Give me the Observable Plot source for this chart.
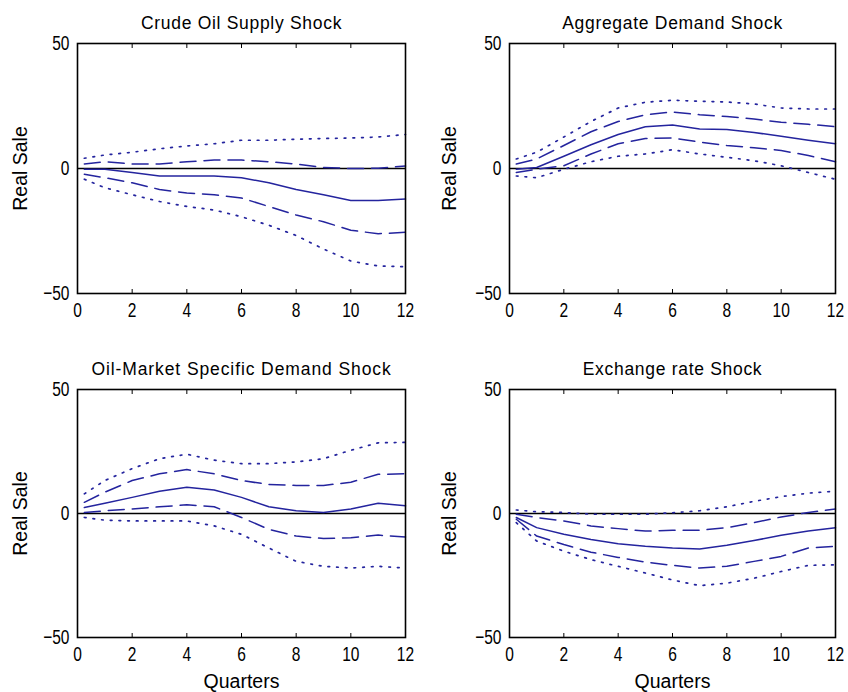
<!DOCTYPE html>
<html>
<head>
<meta charset="utf-8">
<script src="https://cdn.jsdelivr.net/npm/d3@7"></script>
<script src="https://cdn.jsdelivr.net/npm/@observablehq/plot@0.6"></script>
<style>
  html, body { margin: 0; padding: 0; background: #fff; }
  #wrap { position: relative; width: 848px; height: 692px; background: #fff; }
  .panel { position: absolute; }
</style>
</head>
<body>
<div id="wrap"></div>
<script>
// ---- Data ----
const quarters = [0.25, 1, 2, 3, 4, 5, 6, 7, 8, 9, 10, 11, 12];
const xTicks = [0, 2, 4, 6, 8, 10, 12];
const yTicks = [-50, 0, 50];
const titles = ["Crude Oil Supply Shock", "Aggregate Demand Shock", "Oil-Market Specific Demand Shock", "Exchange rate Shock"];

// Crude Oil Supply Shock
const supplyMedian = [-0.3, -0.3, -1.6, -3, -3, -3, -3.7, -5.7, -8.4, -10.5, -12.8, -12.8, -12.2];
const supplyUp1 = [1.8, 2.7, 1.8, 1.8, 2.7, 3.4, 3.4, 2.7, 1.8, 0.4, 0, 0.1, 1];
const supplyLo1 = [-2.3, -3.7, -5.7, -8.4, -9.8, -10.5, -11.8, -15.2, -18.6, -21.3, -24.7, -26.1, -25.5];
const supplyUp2 = [4.1, 5.4, 6.5, 7.9, 9, 9.9, 11.3, 11.3, 11.7, 12, 12.2, 12.6, 13.6];
const supplyLo2 = [-4.3, -7.7, -10.5, -13.2, -15.2, -16.6, -19.3, -22.7, -26.8, -32.2, -37, -39, -39.3];

// Aggregate Demand Shock
const demandMedian = [-0.3, 0.4, 4.9, 9.5, 13.6, 16.7, 17.4, 15.8, 15.6, 14.4, 12.9, 11.3, 9.9];
const demandUp1 = [1.8, 3.8, 9.2, 14.7, 18.8, 21.5, 22.6, 21.5, 20.8, 19.8, 18.5, 17.7, 16.7];
const demandLo1 = [-1.6, -0.3, 1.1, 5.8, 9.9, 12, 12.2, 10.6, 9.2, 8.3, 7.2, 5.2, 2.7];
const demandUp2 = [3.8, 6.5, 12.6, 18.8, 24.2, 26.5, 27.3, 26.9, 26.6, 25.8, 24.2, 23.8, 23.8];
const demandLo2 = [-3, -3.7, -0.3, 2.7, 4.9, 5.8, 7.5, 5.8, 4.5, 3.1, 1.1, -1.6, -4.3];

// Oil-Market Specific Demand Shock
const oilMedian = [2.4, 4.1, 6.5, 9, 10.6, 9.5, 6.5, 2.7, 1.1, 0.4, 1.8, 4.1, 3.1];
const oilUp1 = [4.5, 8.6, 13.3, 16, 17.7, 16, 13.3, 11.7, 11.3, 11.3, 12.6, 15.8, 16];
const oilLo1 = [0.4, 1.1, 1.8, 2.7, 3.5, 2.7, -1.6, -6.4, -9.1, -10.1, -9.8, -8.7, -9.5];
const oilUp2 = [7.9, 13.3, 18.1, 22.1, 23.9, 21.5, 20.1, 20.1, 20.8, 22.1, 25.5, 28.5, 28.7];
const oilLo2 = [-1.6, -2.7, -3, -3, -3, -5, -8.4, -13.9, -19.3, -21.3, -22, -21.3, -22];

// Exchange rate Shock
const fxMedian = [-1.6, -5.7, -8.4, -10.5, -12.2, -13.2, -13.9, -14.3, -12.8, -10.9, -8.8, -7.1, -5.7];
const fxUp1 = [-0.3, -1.6, -3, -5, -6.1, -7.1, -6.8, -6.8, -5.7, -3.7, -1.4, 0.4, 1.8];
const fxLo1 = [-2.3, -9.1, -12.5, -15.6, -17.7, -19.6, -20.9, -22, -21.3, -19.3, -17.3, -13.9, -13.2];
const fxUp2 = [1.4, 0.7, 0.4, -0.3, -0.3, -0.3, 0.3, 1.1, 2.7, 4.9, 6.8, 8.2, 9];
const fxLo2 = [-3.7, -11.1, -15.2, -18.6, -21.3, -24, -26.8, -29.1, -28.1, -26.1, -23.4, -20.9, -20.7];

const panels = [
  {title: titles[0], med: supplyMedian, up1: supplyUp1, lo1: supplyLo1, up2: supplyUp2, lo2: supplyLo2, left: 0, top: 0, ml: 77, mr: 19, mt: 43, mb: 53, xlabel: false},
  {title: titles[1], med: demandMedian, up1: demandUp1, lo1: demandLo1, up2: demandUp2, lo2: demandLo2, left: 424, top: 0, ml: 85, mr: 13, mt: 43, mb: 53, xlabel: false},
  {title: titles[2], med: oilMedian, up1: oilUp1, lo1: oilLo1, up2: oilUp2, lo2: oilLo2, left: 0, top: 346, ml: 77, mr: 19, mt: 43, mb: 55, xlabel: true},
  {title: titles[3], med: fxMedian, up1: fxUp1, lo1: fxLo1, up2: fxUp2, lo2: fxLo2, left: 424, top: 346, ml: 85, mr: 13, mt: 43, mb: 55, xlabel: true}
];

const blue = "#24249e";
const numFont = "'Liberation Sans', Arial, sans-serif";
const txtFont = "'Liberation Sans', Arial, sans-serif";

const wrap = document.getElementById("wrap");

for (const p of panels) {
  const rows = (arr) => quarters.map((q, i) => ({q, v: arr[i]}));
  const marks = [
    Plot.ruleY([0], {stroke: "#000", strokeWidth: 1.5}),
    Plot.line(rows(p.up2), {x: "q", y: "v", stroke: blue, strokeWidth: 1.7, strokeDasharray: "1.7 7"}),
    Plot.line(rows(p.lo2), {x: "q", y: "v", stroke: blue, strokeWidth: 1.7, strokeDasharray: "1.7 7"}),
    Plot.line(rows(p.up1), {x: "q", y: "v", stroke: blue, strokeWidth: 1.5, strokeDasharray: "16 8"}),
    Plot.line(rows(p.lo1), {x: "q", y: "v", stroke: blue, strokeWidth: 1.5, strokeDasharray: "16 8"}),
    Plot.line(rows(p.med), {x: "q", y: "v", stroke: blue, strokeWidth: 1.5}),
    // tick labels
    Plot.axisX(xTicks, {anchor: "bottom", tickSize: 0, tickPadding: 9, label: null,
      fontSize: 21, fontFamily: numFont, fill: "#000", ariaLabel: "xnum"}),
    Plot.axisY(yTicks, {anchor: "left", tickSize: 0, tickPadding: 8, label: null,
      fontSize: 21, fontFamily: numFont, fill: "#000", ariaLabel: "ynum"}),
    // inward ticks
    Plot.axisX(xTicks, {anchor: "bottom", tickSize: 4, dy: -4, tickFormat: () => "", label: null, stroke: "#000"}),
    Plot.axisX(xTicks, {anchor: "top", tickSize: 4, dy: 4, tickFormat: () => "", label: null, stroke: "#000"}),
    Plot.axisY(yTicks, {anchor: "left", tickSize: 4, dx: 4, tickFormat: () => "", label: null, stroke: "#000"}),
    Plot.axisY(yTicks, {anchor: "right", tickSize: 4, dx: -4, tickFormat: () => "", label: null, stroke: "#000"}),
    Plot.frame({stroke: "#000", strokeWidth: 1.6}),
    Plot.text([p.title], {frameAnchor: "top", dy: -20, fontSize: 17.5, fontFamily: txtFont, fill: "#000", lineAnchor: "middle", textAnchor: "middle"}),
    Plot.text(["Real Sale"], {frameAnchor: "left", dx: p.left === 0 ? -57 : -60, rotate: -90, fontSize: 19.5, fontFamily: txtFont, fill: "#000", lineAnchor: "middle", textAnchor: "middle"})
  ];
  if (p.xlabel) {
    marks.push(Plot.text(["Quarters"], {frameAnchor: "bottom", dy: 44, fontSize: 19.5, fontFamily: txtFont, fill: "#000", lineAnchor: "middle", textAnchor: "middle"}));
  }
  const chart = Plot.plot({
    width: 424,
    height: 346,
    marginLeft: p.ml,
    marginRight: p.mr,
    marginTop: p.mt,
    marginBottom: p.mb,
    style: {background: "transparent", overflow: "visible"},
    x: {domain: [0, 12], axis: null},
    y: {domain: [-50, 50], axis: null},
    marks
  });
  chart.classList.add("panel");
  chart.style.left = p.left + "px";
  chart.style.top = p.top + "px";
  // title letter spacing
  chart.querySelectorAll("text").forEach(t => {
    if (t.textContent === p.title) t.setAttribute("letter-spacing", p.title.length > 25 ? "0.9" : "0.7");
  });
  // condensed numeric tick labels (narrow glyphs like the reference)
  chart.querySelectorAll("g[aria-label] text").forEach(t => {
    const txt = t.textContent.trim();
    if (!/^[−\-]?\d+$/.test(txt)) return;
    const tr = t.getAttribute("transform");
    if (tr) {
      t.setAttribute("transform", tr + " scale(0.74,1)");
    } else {
      const x = +(t.getAttribute("x") || 0), y = +(t.getAttribute("y") || 0);
      t.removeAttribute("x"); t.removeAttribute("y");
      t.setAttribute("transform", `translate(${x},${y}) scale(0.74,1)`);
    }
  });
  wrap.appendChild(chart);
}
</script>
</body>
</html>
